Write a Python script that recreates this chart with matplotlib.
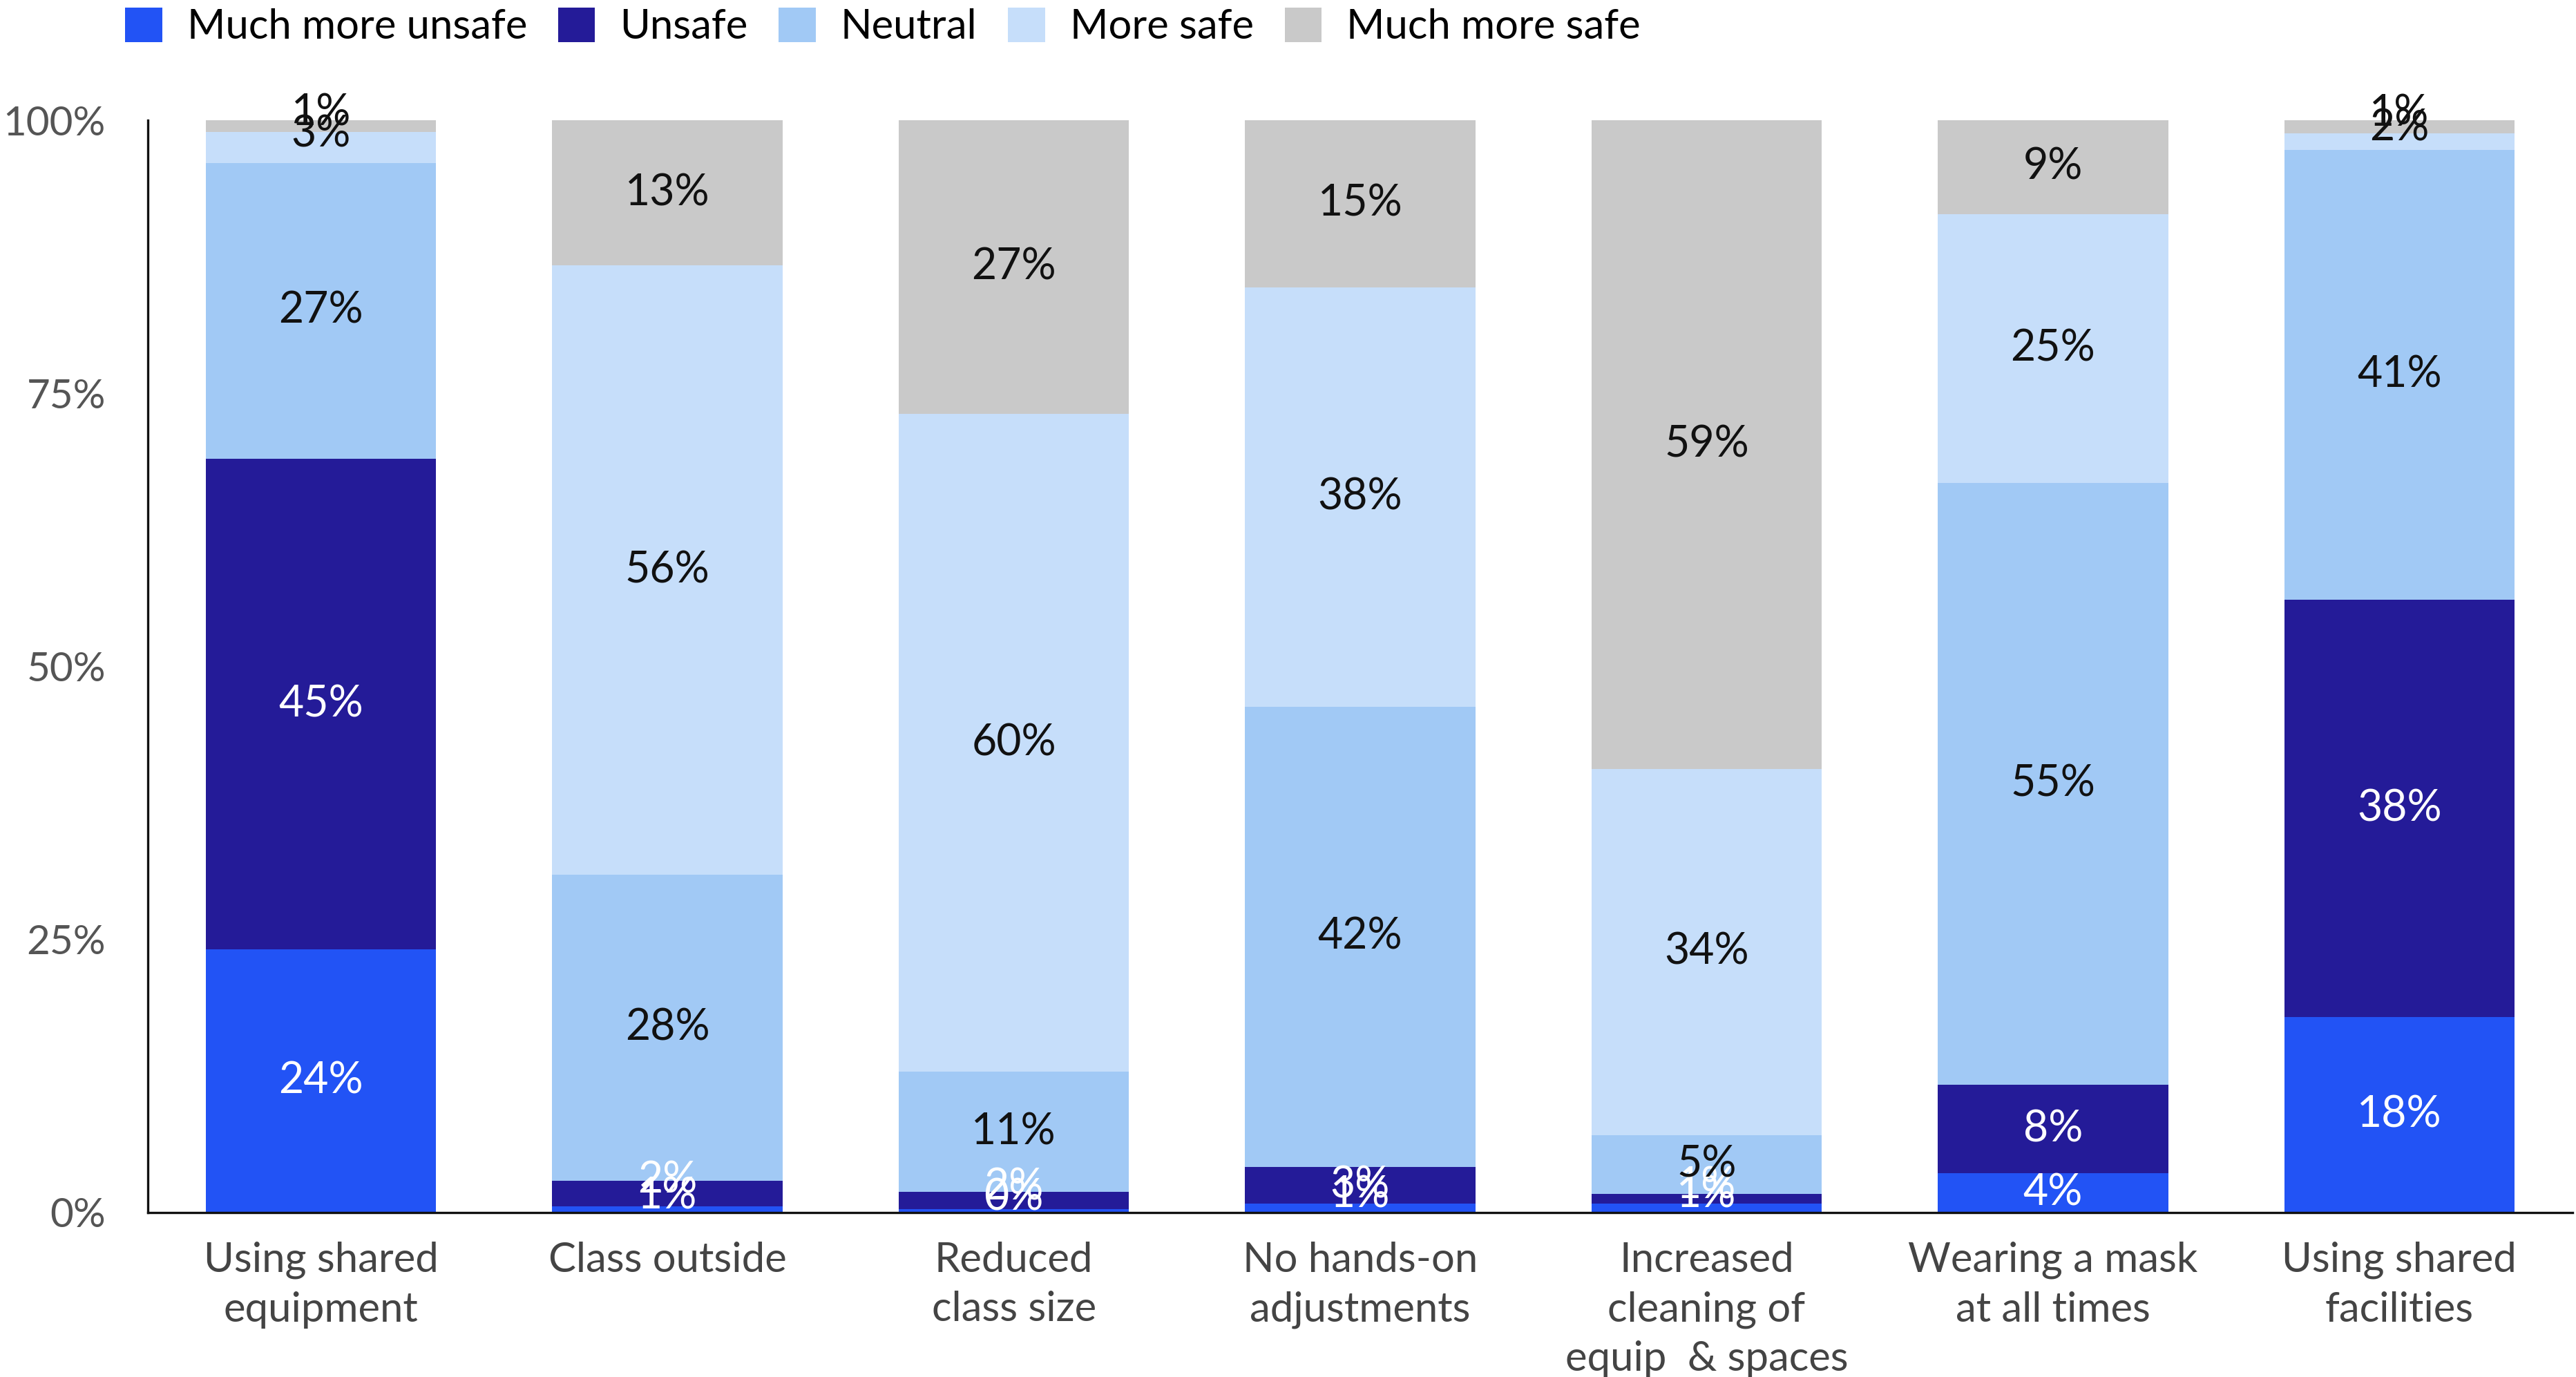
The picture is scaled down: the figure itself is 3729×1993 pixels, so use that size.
import matplotlib
matplotlib.use("Agg")
import matplotlib.pyplot as plt
from matplotlib.patches import Patch
import numpy as np

plt.rcParams['font.family'] = ['Lato', 'DejaVu Sans']

categories = [
    "Using shared\nequipment",
    "Class outside",
    "Reduced\nclass size",
    "No hands-on\nadjustments",
    "Increased\ncleaning of\nequip  & spaces",
    "Wearing a mask\nat all times",
    "Using shared\nfacilities",
]
series_names = ["Much more unsafe", "Unsafe", "Neutral", "More safe", "Much more safe"]

much_more_unsafe = [24.1, 0.6, 0.3, 0.8, 0.8, 3.6, 17.9]
unsafe = [44.9, 2.3, 1.6, 3.4, 0.9, 8.1, 38.2]
neutral = [27.1, 28.0, 11.0, 42.1, 5.4, 55.1, 41.2]
more_safe = [2.8, 55.8, 60.2, 38.4, 33.5, 24.6, 1.5]
much_more_safe = [1.1, 13.3, 26.9, 15.3, 59.4, 8.6, 1.2]

y_ticks = [0, 25, 50, 75, 100]
y_tick_labels = ["0%", "25%", "50%", "75%", "100%"]

colors = ["#2253F5", "#241B98", "#A1C9F5", "#C6DEFA", "#C9C9C9"]
label_colors = ["white", "white", "#111111", "#111111", "#111111"]

series = [much_more_unsafe, unsafe, neutral, more_safe, much_more_safe]

fig = plt.figure(figsize=(3729 / 200, 1993 / 200), dpi=200)
ax = fig.add_axes([214 / 3729, 1 - 1755 / 1993, (3724 - 214) / 3729, (1755 - 174) / 1993])

x = np.arange(len(categories))
bottom = np.zeros(len(categories))
for vals, col, lcol in zip(series, colors, label_colors):
    vals = np.array(vals)
    ax.bar(x, vals, bottom=bottom, width=0.665, color=col, edgecolor="none", zorder=2)
    for xi, b, v in zip(x, bottom, vals):
        # thin segments get their label nudged slightly upward
        yy = b + v / 2 + (1.2 if v < 3 else 0.0)
        ax.text(xi, yy, f"{round(v):.0f}%", ha="center", va="center",
                color=lcol, fontsize=22.5, zorder=3)
    bottom += vals

ax.set_xlim(-0.5, len(categories) - 0.5)
ax.set_ylim(0, 100)
ax.set_yticks(y_ticks)
ax.set_yticklabels(y_tick_labels, color="#555555", fontsize=21)
ax.set_xticks(x)
ax.set_xticklabels(categories, color="#444444", fontsize=21.5, linespacing=1.4)
ax.tick_params(axis="both", length=0)
ax.tick_params(axis="y", pad=22)
ax.tick_params(axis="x", pad=15)
for s in ["top", "right"]:
    ax.spines[s].set_visible(False)
for s in ["left", "bottom"]:
    ax.spines[s].set_color("#111111")
    ax.spines[s].set_linewidth(1.2)

handles = [Patch(facecolor=c, edgecolor="none") for c in colors]
fig.legend(handles, series_names, loc="upper left", bbox_to_anchor=(178 / 3729, 0.996),
           ncol=5, frameon=False, fontsize=21.5, handlelength=0.9, handleheight=0.9,
           handletextpad=0.6, columnspacing=0.75, borderaxespad=0.0, borderpad=0.05)

fig.savefig("out.png", dpi=200)
